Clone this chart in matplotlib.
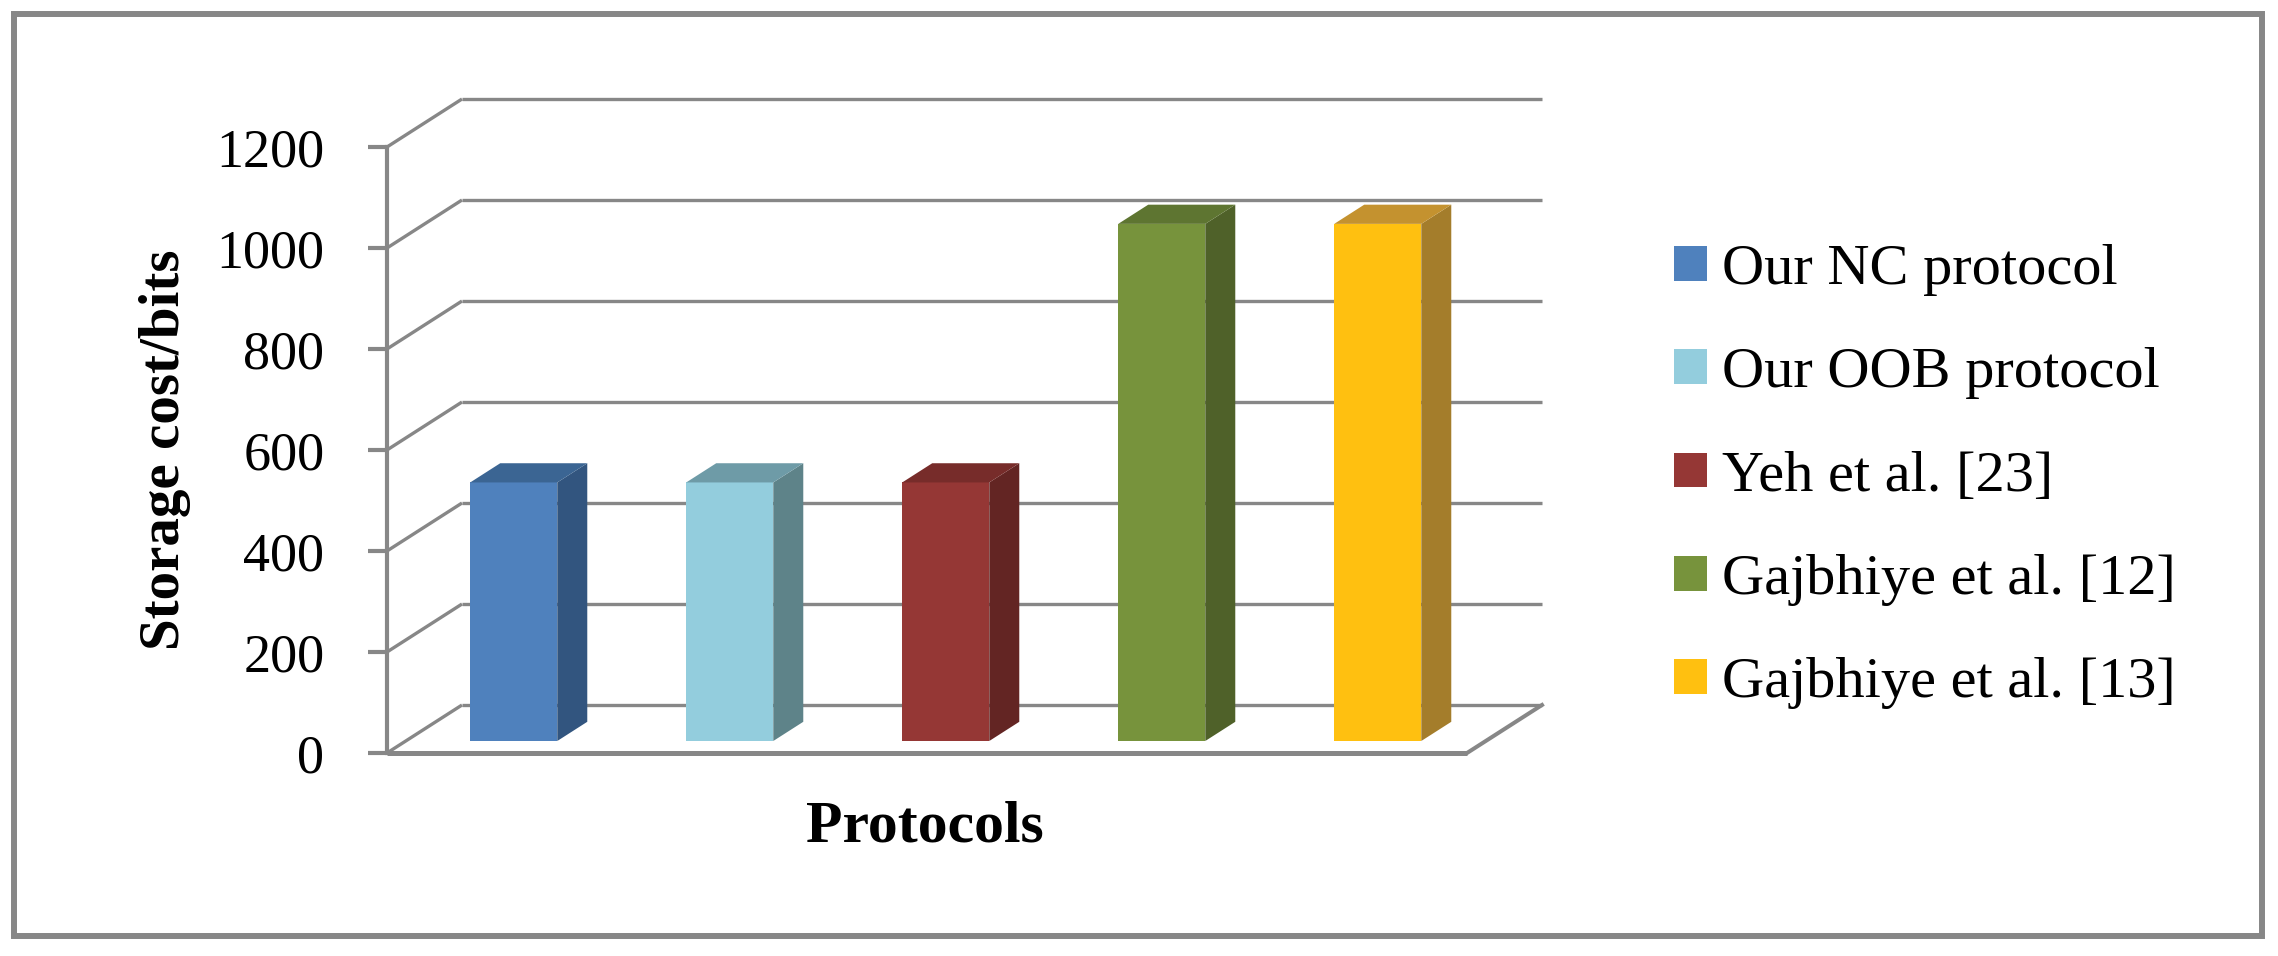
import matplotlib
matplotlib.use("Agg")
import matplotlib.pyplot as plt
from matplotlib.patches import Polygon, Rectangle, Patch

# ---- data ----
protocols = ["Our NC protocol", "Our OOB protocol", "Yeh et al. [23]",
             "Gajbhiye et al. [12]", "Gajbhiye et al. [13]"]
storage_bits = [512, 512, 512, 1024, 1024]
yticks = [0, 200, 400, 600, 800, 1000, 1200]
front_colors = ["#4F81BD", "#93CDDD", "#953735", "#77933C", "#FFC010"]
side_colors = ["#32557F", "#5E8389", "#632523", "#4F6129", "#A47D2B"]
top_colors = ["#3B6593", "#6E9BA7", "#772C2A", "#5E7531", "#C4922F"]

FONT = ["Liberation Serif", "DejaVu Serif"]
plt.rcParams["font.family"] = FONT

W, H = 2278, 956
fig = plt.figure(figsize=(W / 100, H / 100), dpi=100)
fig.patch.set_facecolor("white")

# outer border
fig.add_artist(Rectangle((13.5 / W, 1 - 936 / H), (2262 - 13.5) / W, (936 - 13.5) / H,
                         transform=fig.transFigure, fill=False, edgecolor="#878787",
                         linewidth=4.3))

# front plane of the 3D plot
x0px, x1px, y0px, y1px = 387, 1467, 753, 147
ax = fig.add_axes([x0px / W, 1 - y0px / H, (x1px - x0px) / W, (y0px - y1px) / H])
n = len(protocols)
ax.set_xlim(-0.5, n - 0.5)
ax.set_ylim(0, 1200)
ax.axis("off")

DX = 75 / 216.0          # depth offset in category units
DY = 48 / (606 / 1200)   # depth offset in value units
grid_c = "#878787"
glw = 2.4

# back wall gridlines and side-wall diagonals
for v in yticks:
    ax.plot([-0.5, -0.5 + DX], [v, v + DY], color=grid_c, lw=glw, clip_on=False,
            solid_capstyle="butt", zorder=1)
    ax.plot([-0.5 + DX, n - 0.5 + DX], [v + DY, v + DY], color=grid_c, lw=glw,
            clip_on=False, solid_capstyle="butt", zorder=1)
    # tick mark
    ax.plot([-0.5 - 0.088, -0.5], [v, v], color=grid_c, lw=glw + 0.6, clip_on=False,
            solid_capstyle="butt", zorder=2)
    ax.text(-0.5 - 0.29, v, str(v), ha="right", va="center_baseline", fontsize=39,
            color="black", clip_on=False)

# floor
ax.plot([n - 0.5, n - 0.5 + DX], [0, DY], color=grid_c, lw=glw + 0.5, clip_on=False, zorder=1)
ax.plot([-0.5, n - 0.5], [0, 0], color=grid_c, lw=glw + 1.2, clip_on=False,
        solid_capstyle="butt", zorder=2)
# vertical axis
ax.plot([-0.5, -0.5], [0, 1200], color=grid_c, lw=glw + 0.6, clip_on=False, zorder=2)

# bars
bw = 0.403
f0, f1 = 0.25, 0.65
for i, v in enumerate(storage_bits):
    bx = i - bw / 2 + f0 * DX
    by = f0 * DY
    ddx = (f1 - f0) * DX
    ddy = (f1 - f0) * DY
    front = Rectangle((bx, by), bw, v, facecolor=front_colors[i], edgecolor="none",
                      clip_on=False, zorder=5)
    side = Polygon([(bx + bw, by), (bx + bw + ddx, by + ddy), (bx + bw + ddx, by + ddy + v),
                    (bx + bw, by + v)], closed=True, facecolor=side_colors[i],
                   edgecolor="none", clip_on=False, zorder=5)
    top = Polygon([(bx, by + v), (bx + ddx, by + v + ddy), (bx + bw + ddx, by + v + ddy),
                   (bx + bw, by + v)], closed=True, facecolor=top_colors[i],
                  edgecolor="none", clip_on=False, zorder=5)
    for p in (front, side, top):
        ax.add_patch(p)

# axis titles
fig.text(925 / W, 1 - 821 / H, "Protocols", ha="center", va="center_baseline",
         fontsize=43, fontweight="bold")
fig.text(165 / W, 1 - 450 / H, "Storage cost/bits", ha="center", va="center",
         rotation=90, fontsize=41, fontweight="bold")

# legend
handles = [Patch(facecolor=c, edgecolor="none") for c in front_colors]
fig.legend(handles, protocols, loc="upper left",
           bbox_to_anchor=(1674 / W, 1 - 244 / H), frameon=False, fontsize=42,
           handlelength=0.566, handleheight=0.53, handletextpad=0.26,
           labelspacing=0.88, borderpad=0, borderaxespad=0)

fig.savefig("out.png", dpi=100, facecolor="white")
